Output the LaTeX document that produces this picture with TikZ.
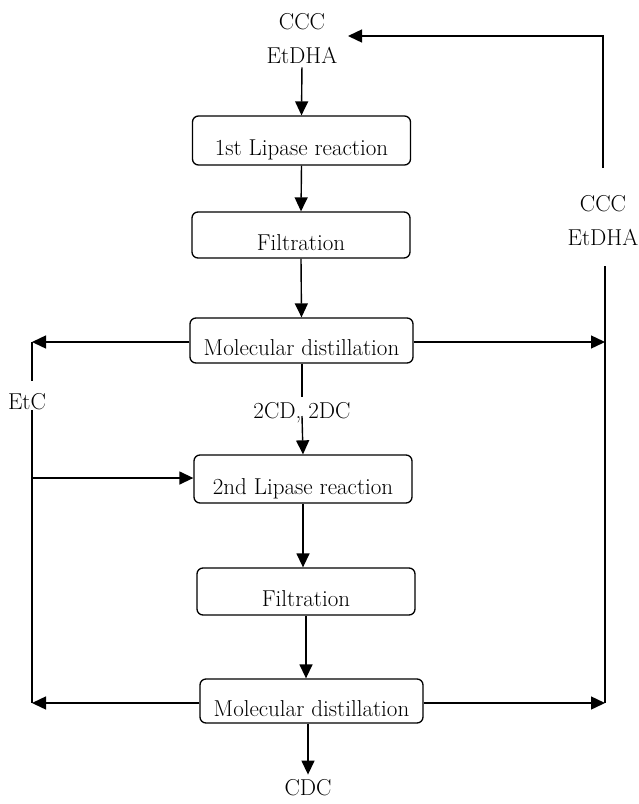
\documentclass[tikz,border=0pt]{standalone}
\usepackage{fontspec}
\usetikzlibrary{arrows.meta}

\begin{document}
\begin{tikzpicture}[x=1pt,y=-1pt,
  every node/.style={font=\fontsize{23}{26}\selectfont,inner sep=0pt},
  procbox/.style={draw,line width=1.3pt,rounded corners=6pt,minimum width=218pt,
    minimum height=47pt,text height=32pt,text depth=2pt},
  flow/.style={line width=1.4pt,-{Triangle[length=14pt,width=13pt]}},
  plain/.style={line width=1.4pt}]
  \useasboundingbox (0,0) rectangle (638,804);

  % Process boxes
  \node[procbox,minimum height=49pt] (lip1) at (301.5,140.5) {1st Lipase reaction};
  \node[procbox,minimum height=46pt] (filt1) at (301,235) {Filtration};
  \node[procbox,minimum width=223pt,minimum height=45pt] (dist1) at (301.5,340.5) {Molecular distillation};
  \node[procbox,minimum height=48pt] (lip2) at (303,479) {2nd Lipase reaction};
  \node[procbox] (filt2) at (306,591.5) {Filtration};
  \node[procbox,minimum width=223pt,minimum height=44pt] (dist2) at (311.5,701) {Molecular distillation};

  % Stream labels
  \node (feedc) at (302,22) {CCC};
  \node (feede) at (302,55) {EtDHA};
  \node (recc) at (603,204) {CCC};
  \node (rece) at (603,237) {EtDHA};
  \node (etc) at (27,402) {EtC};
  \node (mix) at (302,413) {2CD, 2DC};
  \node (cdc) at (308,788) {CDC};

  % Loose ends of the side lines
  \coordinate (ltop) at (32,342);
  \coordinate (ljoin) at (32,478);
  \coordinate (lbot) at (32,703);
  \coordinate (rtop) at (605,266);
  \coordinate (rmid) at (605,342);
  \coordinate (rbot) at (605,703);
  \coordinate (back) at (603,168);
  \coordinate (backin) at (348,36);

  % Main line
  \draw[flow,shorten <=4pt] (feede.south) -- (lip1.north);
  \draw[flow] (lip1.south) -- (filt1.north);
  \draw[flow] (filt1.south) -- (dist1.north);
  \draw[plain] (mix.north |- dist1.south) -- ([yshift=6pt]mix.north);
  \draw[flow] ([yshift=-3pt]mix.center) -- (lip2.north);
  \draw[flow] (lip2.south) -- (lip2.south |- filt2.north);
  \draw[flow] (filt2.south) -- (filt2.south |- dist2.north);
  \draw[flow,shorten >=5pt] (cdc.north |- dist2.south) -- (cdc.north);

  % EtC loop on the left
  \draw[flow] (dist1.west |- ltop) -- (ltop);
  \draw[plain] (ltop) -- ([yshift=13pt]etc.north -| ltop);
  \draw[plain] (etc.south -| ltop) -- (lbot);
  \draw[flow] (ljoin) -- (ljoin -| lip2.west);
  \draw[flow] (dist2.west |- lbot) -- (lbot);

  % CCC, EtDHA back to the start
  \draw[flow] (dist1.east |- rmid) -- (rmid);
  \draw[flow] (dist2.east |- rbot) -- (rbot);
  \draw[plain] (rtop) -- (rbot);
  \draw[flow] (back) |- (backin);
\end{tikzpicture}
\end{document}
